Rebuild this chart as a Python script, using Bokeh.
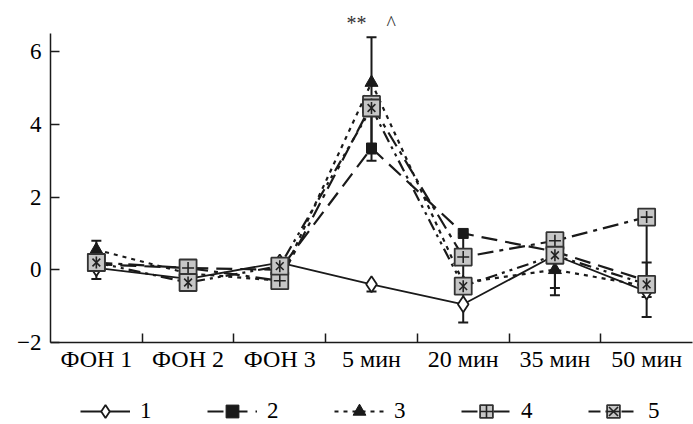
from bokeh.plotting import figure
from bokeh.layouts import column
from bokeh.models import (Range1d, FixedTicker, Legend, LegendItem, Whisker,
                          ColumnDataSource, TeeHead, Title)
from bokeh.embed import file_html
from bokeh.resources import INLINE
import math

# ---- data ----
categories = ["ФОН 1", "ФОН 2", "ФОН 3", "5 мин", "20 мин", "35 мин", "50 мин"]
series_1 = [0.05, -0.25, 0.2, -0.4, -0.95, 0.4, -0.6]
series_2 = [0.15, 0.05, 0.0, 3.35, 1.0, 0.5, -0.3]
series_3 = [0.55, -0.1, -0.3, 5.15, -0.35, 0.0, -0.45]
series_4 = [0.2, 0.05, -0.3, 4.55, 0.35, 0.8, 1.45]
series_5 = [0.2, -0.35, 0.1, 4.45, -0.45, 0.4, -0.4]
series_labels = ["1", "2", "3", "4", "5"]

# error bars: category index, lower, upper
err_cat = [0, 2, 3, 3, 3, 4, 5, 5, 6, 6]
err_low = [-0.25, -0.5, 3.0, 3.2, -0.6, -1.45, -0.7, -0.5, -1.3, -0.75]
err_high = [0.8, -0.3, 6.4, 4.45, -0.4, 1.0, 0.4, 0.8, 1.45, 0.2]

y_ticks = [-2, 0, 2, 4, 6]
annotation_text = "**\u00a0\u00a0\u00a0\u00a0^"

FONT = "'Liberation Serif', 'Times New Roman', serif"
INK = "#1a1a1a"
GRAY = "#c6c6c6"

xs = list(range(len(categories)))

# series styles
line_styles = [
    dict(line_color=INK, line_width=1.8),
    dict(line_color=INK, line_width=2.2, line_dash="16 8"),
    dict(line_color=INK, line_width=2.2, line_dash="4 5"),
    dict(line_color=INK, line_width=2.2, line_dash="16 6 4 6"),
    dict(line_color=INK, line_width=2.2, line_dash="12 5 3 5 3 5"),
]
marker_styles = [
    [dict(marker="diamond", size=16, fill_color="white", line_color=INK, line_width=1.8)],
    [dict(marker="square", size=10, fill_color=INK, line_color=INK)],
    [dict(marker="triangle", size=13, fill_color=INK, line_color=INK)],
    [dict(marker="square", size=17, fill_color=GRAY, line_color="#333333", line_width=1.8),
     dict(marker="cross", size=12, line_color="#222222", line_width=1.6)],
    [dict(marker="square", size=17, fill_color=GRAY, line_color="#333333", line_width=1.8),
     dict(marker="x", size=11, line_color="#222222", line_width=1.6),
     dict(marker="dash", size=12, angle=math.pi / 2, line_color="#222222", line_width=1.6)],
]
series = [series_1, series_2, series_3, series_4, series_5]

p = figure(width=693, height=380, output_backend="svg", toolbar_location=None,
           x_range=Range1d(-0.5, 6.5), y_range=Range1d(-2, 6.5),
           min_border_left=50, min_border_right=1, min_border_top=33,
           min_border_bottom=38)
p.outline_line_color = None
p.grid.visible = False
p.background_fill_color = "white"
p.border_fill_color = "white"

# annotation above the peak (title panel so it is not clipped by the frame)
t = Title(text=annotation_text, align="left", offset=296, text_font=FONT,
          text_font_size="20px", text_font_style="normal", text_color="#333333",
          standoff=0, vertical_align="bottom")
p.add_layout(t, "above")

# axes
xa = p.xaxis[0]
xa.ticker = FixedTicker(ticks=xs, minor_ticks=[i + 0.5 for i in xs[:-1]])
xa.major_label_overrides = {i: c for i, c in enumerate(categories)}
xa.major_tick_in = 0
xa.major_tick_out = 0
xa.minor_tick_in = 9
xa.minor_tick_out = 0
xa.minor_tick_line_color = INK
xa.minor_tick_line_width = 1.5
xa.axis_line_color = INK
xa.axis_line_width = 1.5
xa.major_label_text_font = FONT
xa.major_label_text_font_size = "24px"
xa.major_label_text_color = "black"
xa.major_label_standoff = 3

ya = p.yaxis[0]
ya.ticker = FixedTicker(ticks=y_ticks, minor_ticks=[])
ya.major_label_overrides = {-2: "\u22122"}
ya.major_tick_in = 9
ya.major_tick_out = 0
ya.major_tick_line_color = INK
ya.major_tick_line_width = 1.5
ya.minor_tick_line_color = None
ya.axis_line_color = INK
ya.axis_line_width = 1.5
ya.major_label_text_font = FONT
ya.major_label_text_font_size = "23px"
ya.major_label_text_color = "black"
ya.major_label_standoff = 9

# error bars
err_src = ColumnDataSource(dict(x=err_cat, lo=err_low, hi=err_high))
wh = Whisker(base="x", lower="lo", upper="hi", source=err_src, dimension="height",
             line_color=INK, line_width=2,
             lower_head=TeeHead(size=10, line_color=INK, line_width=2),
             upper_head=TeeHead(size=10, line_color=INK, line_width=2))
p.add_layout(wh)

for ys, ls in zip(series, line_styles):
    p.line(xs, ys, **ls)
order = [1, 2, 0, 3, 4]
for i in order:
    for ms in marker_styles[i]:
        p.scatter(xs, series[i], **ms)

# legend strip: a second figure; its renderers use the same data but lie
# outside that figure's visible range, so only the legend samples are seen
leg = figure(width=693, height=44, output_backend="svg", toolbar_location=None,
             x_range=Range1d(100, 101), y_range=Range1d(100, 101),
             min_border=0, outline_line_color=None)
leg.axis.visible = False
leg.grid.visible = False
items = []
for i, lab in enumerate(series_labels):
    rs = [leg.line(xs, series[i], **line_styles[i])]
    for ms in marker_styles[i]:
        rs.append(leg.scatter(xs, series[i], **ms))
    items.append(LegendItem(label=lab, renderers=rs))
legend = Legend(items=items, orientation="horizontal", location=(30, -3),
                glyph_width=50, glyph_height=32, label_height=32, label_standoff=10,
                spacing=47, padding=0, margin=0, border_line_color=None,
                background_fill_alpha=0, label_text_font=FONT,
                label_text_font_size="23px", label_text_color="black")
leg.add_layout(legend, "center")

layout = column(p, leg, spacing=0)
open("out.html", "w").write(file_html(layout, INLINE))
